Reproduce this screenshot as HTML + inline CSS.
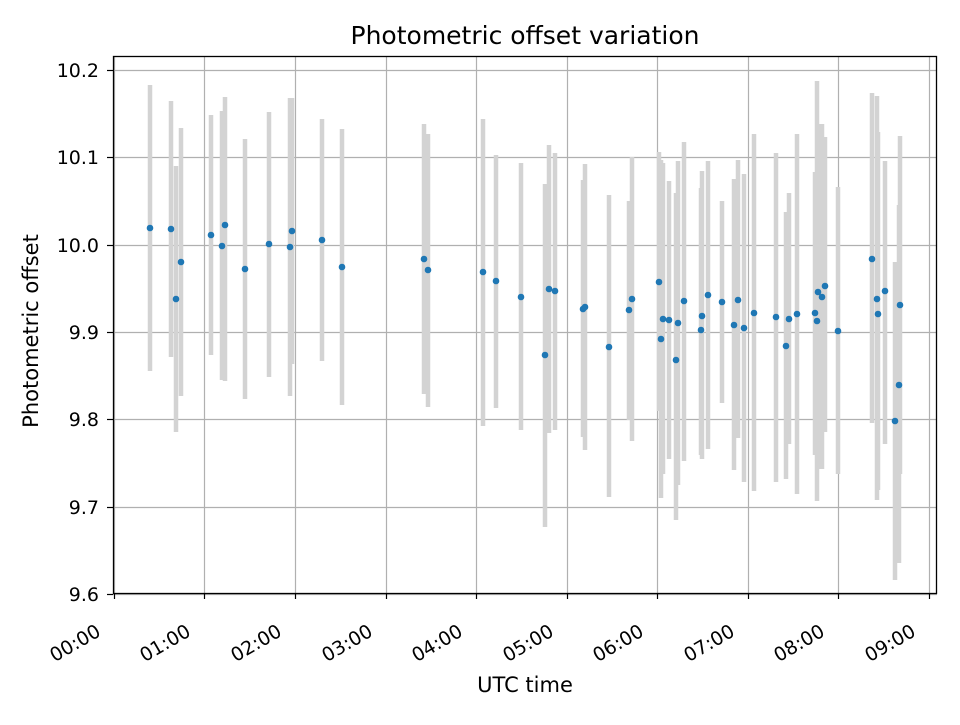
<!DOCTYPE html>
<html><head><meta charset="utf-8"><style>
body{margin:0;background:#fff}
svg text{font-family:"DejaVu Sans","Liberation Sans",sans-serif;fill:#000}
</style></head><body>
<svg id="s" width="960" height="720" xmlns="http://www.w3.org/2000/svg">
<rect width="960" height="720" fill="#fff"/>
<g id="grid" stroke="#b0b0b0" stroke-width="1.2"></g>
<g id="err" stroke="#d3d3d3" stroke-width="4.5"></g>
<g id="pts" fill="#1f77b4"></g>
<rect x="113.5" y="56.5" width="823" height="537" fill="none" stroke="#000" stroke-width="1.3"/>
<g id="ticks" stroke="#000" stroke-width="1.2"></g>
<g id="lab" font-size="19"></g>
<text x="525" y="44" font-size="25" text-anchor="middle">Photometric offset variation</text>
<text x="525" y="692" font-size="21" text-anchor="middle">UTC time</text>
<text transform="translate(38,331) rotate(-90)" font-size="21" text-anchor="middle">Photometric offset</text>
</svg>
<script>
const NS="http://www.w3.org/2000/svg";
function el(p,t,a,txt){const e=document.createElementNS(NS,t);for(const k in a)e.setAttribute(k,a[k]);if(txt)e.textContent=txt;document.getElementById(p).appendChild(e);}
const yt=[[10.2,70],[10.1,157],[10.0,245],[9.9,332],[9.8,419],[9.7,507],[9.6,594]];
const xt=[114,204,295,386,476,567,657,748,838,929];
yt.forEach(([v,y])=>{el("grid","line",{x1:113,x2:937,y1:y+.5,y2:y+.5});el("ticks","line",{x1:107,x2:113,y1:y+.5,y2:y+.5});
el("lab","text",{x:99,y:y+7,"text-anchor":"end"},v.toFixed(1));});
xt.forEach((x,i)=>{el("grid","line",{x1:x+.5,x2:x+.5,y1:56,y2:593});el("ticks","line",{x1:x+.5,x2:x+.5,y1:593,y2:599});
el("lab","text",{x:0,y:0,"text-anchor":"end",transform:`translate(${x-12},${635}) rotate(-30)`},"0"+i+":00");});
const d=[[150,228,85,371],[171,229,101,357],[176,299,166,432],[181,262,128,396],[211,235,115,355],[222,246,111,380],[225,225,97,381],[245,269,139,399],[269,244,112,377],[290,247,98,396],[292,231,98,364],[322,240,119,361],[342,267,129,405],[424,259,124,394],[428,270,134,407],[483,272,119,426],[496,281,155,408],[521,297,163,430],[545,355,184,527],[549,289,145,433],[555,291,153,430],[583,309,180,437],[585,307,164,450],[609,347,195,497],[629,310,201,420],[632,299,157,441],[659,282,152,411],[661,339,160,498],[663,319,163,474],[669,320,181,459],[676,360,193,520],[678,323,161,485],[684,301,142,461],[701,330,188,455],[702,316,171,459],[708,295,161,449],[722,302,201,403],[734,325,179,470],[738,300,160,438],[744,328,174,482],[754,313,134,491],[776,317,153,482],[786,346,212,479],[789,319,193,444],[797,314,134,494],[815,313,172,455],[817,321,81,501],[818,292,124,469],[822,297,124,469],[825,286,137,432],[838,331,187,474],[872,259,93,423],[877,299,96,500],[878,314,132,490],[885,291,161,444],[895,421,262,580],[899,385,205,563],[900,305,136,474]];
d.forEach(([x,y,t,b])=>el("err","line",{x1:x,x2:x,y1:t,y2:b}));
d.forEach(([x,y])=>el("pts","circle",{cx:x,cy:y,r:3.3}));
</script>
</body></html>
